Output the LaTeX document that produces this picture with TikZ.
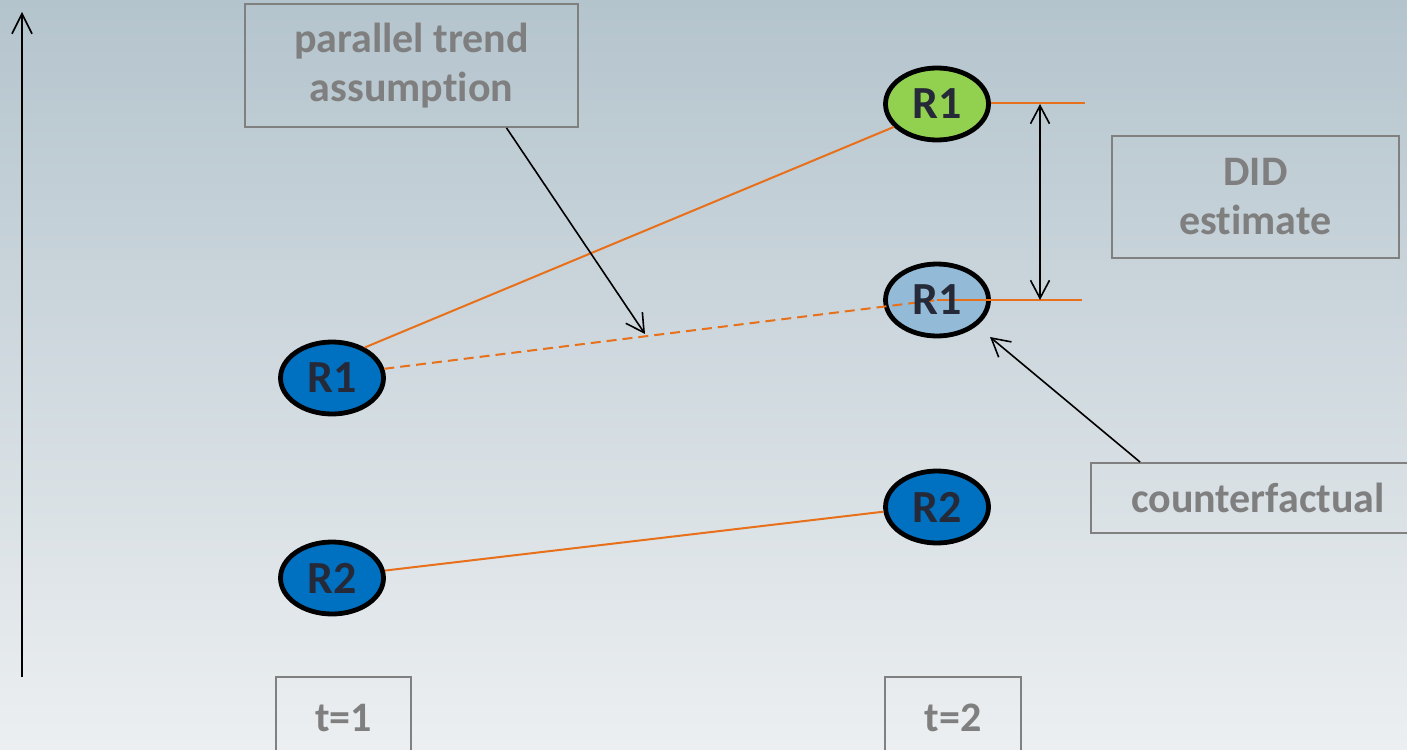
\documentclass[tikz,border=0pt]{standalone}
\usepackage{fontspec}
\setmainfont{Carlito}[Ligatures={NoCommon}]
\usetikzlibrary{shapes.geometric,arrows.meta,calc}

\definecolor{bgtop}{HTML}{B4C4CD}
\definecolor{bgbot}{HTML}{ECEFF1}
\definecolor{boxgray}{HTML}{808080}
\definecolor{txtgray}{HTML}{7F7F7F}
\definecolor{trend}{HTML}{E8701A}
\definecolor{treatgreen}{HTML}{92D050}
\definecolor{obsblue}{HTML}{0070C0}
\definecolor{cfblue}{HTML}{93BAD7}
\definecolor{inktext}{HTML}{262A38}

\tikzset{
  x=1pt, y=-1pt,
  labelbox/.style={draw=boxgray, line width=1.8pt, rectangle, inner sep=0pt,
    align=center, text=txtgray, font=\fontsize{42}{51}\selectfont\bfseries},
  region/.style={ellipse, draw=black, line width=4.8pt, inner sep=0pt,
    minimum width=103pt, minimum height=72pt, text=inktext,
    font=\fontsize{46}{50}\selectfont\bfseries},
  regiontext/.style={inner sep=0pt, text=inktext,
    font=\fontsize{46}{50}\selectfont\bfseries},
  trendline/.style={draw=trend, line width=2pt},
  pointer/.style={draw=black, line width=1.6pt,
    -{Straight Barb[length=18pt,width=20pt,line width=1.6pt]}},
}

\begin{document}
\begin{tikzpicture}
  % background
  \useasboundingbox (0,0) rectangle (1407,749);
  \shade[top color=bgtop, bottom color=bgbot] (0,0) rectangle (1407,749);

  % vertical axis
  \coordinate (axbot) at (22,677);
  \coordinate (axtop) at (22,12);
  \draw[line width=2pt, -{Straight Barb[length=20pt,width=20pt,line width=1.6pt]}] (axbot) -- (axtop);

  % label boxes
  \node[labelbox, minimum width=333pt, minimum height=123pt] (pt) at (411.5,65.5)
    {\raisebox{-2pt}{parallel trend}\\assumption};
  \node[labelbox, minimum width=287pt, minimum height=122pt] (did) at (1255.5,197)
    {\raisebox{-2pt}{DID}\\estimate};
  \node[labelbox, minimum width=334pt, minimum height=70pt] (cfl) at (1258,498)
    {counterfactual};
  \node[labelbox, minimum width=135pt, minimum height=82pt] (t1) at (343.5,718) {t=1};
  \node[labelbox, minimum width=136pt, minimum height=82pt] (t2) at (953,718) {t=2};

  % regions
  \node[region, fill=obsblue] (r1a) at (332,378) {R1};
  \node[region, fill=obsblue] (r2a) at (332,578) {R2};
  \node[region, fill=treatgreen] (r1b) at (937,104) {R1};
  \node[region, fill=obsblue] (r2b) at (937,507) {R2};
  \node[region, fill=cfblue] (cf) at (937,300) {};

  % trends
  \draw[trendline] (r1a.43) -- (r1b.208);
  \draw[trendline, dash pattern=on 10pt off 6pt] (r1a.10) -- (cf.center);
  \draw[trendline] (r2a.8) -- (r2b.185);

  % levels at t=2
  \coordinate (lvltop) at (1085,103);
  \coordinate (lvlbot) at (1082,300);
  \draw[trendline] (r1b.east |- lvltop) -- (lvltop);
  \draw[trendline] (cf.center) -- (lvlbot);
  \node[regiontext] at (cf.center) {R1};

  % DID gap
  \coordinate (gaptop) at (1040,104);
  \coordinate (gapbot) at (1040,300);
  \draw[line width=1.6pt,
    {Straight Barb[length=18pt,width=19pt,line width=1.6pt]}-{Straight Barb[length=18pt,width=19pt,line width=1.6pt]}]
    (gaptop) -- (gapbot);

  % pointers
  \coordinate (ptend) at (645,334);
  \draw[pointer] ($(pt.south)+(95,0)$) -- (ptend);
  \coordinate (cfend) at (990,337);
  \draw[pointer] ($(cfl.north west)+(50,0)$) -- (cfend);
\end{tikzpicture}
\end{document}
